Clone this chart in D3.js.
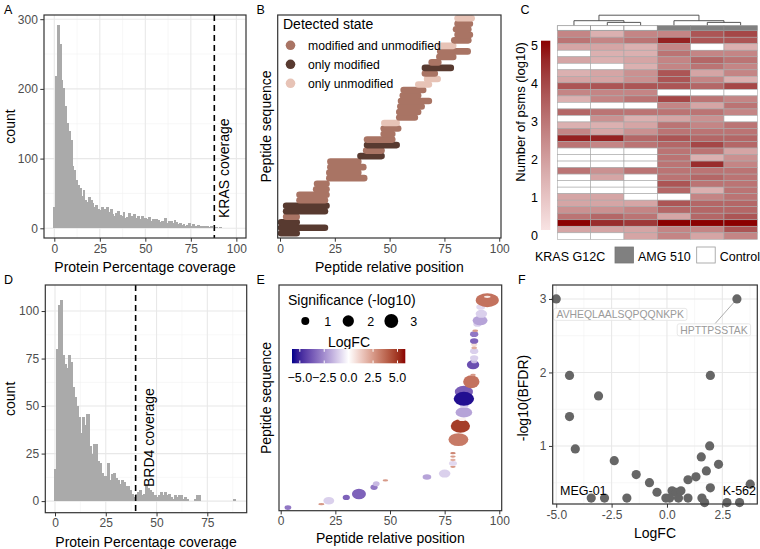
<!DOCTYPE html>
<html><head><meta charset="utf-8">
<script src="https://cdn.jsdelivr.net/npm/d3@7"></script>
<style>body{margin:0;background:#fff}svg{display:block}</style>
</head><body><svg id="c" width="760" height="549"></svg>
<script>
// ================= DATA =================
// Panel A: protein coverage histogram (bin centre %, count)
const covBinsA = d3.range(0, 101);
const covCountsA = [31,219,292,265,213,201,176,151,139,127, 89,84,69,62,58,46,55,41,38,45,
  40,36,30,33,28,26,30,22,28,30, 24,27,20,18,22,25,19,17,24,15, 16,22,18,14,20,15,18,14,17,12,
  15,13,16,11,14,10,13,12,9,11, 10,15,8,11,10,7,12,9,6,7, 5,6,4,5,7,3,6,3,4,5,
  3,3,2,3,4,2,3,1,2,2, 1,2,1,1,1,0,1,1,0,1, 1];
const krasCoverage = 87.9;
const histXTicksA = [0,25,50,75,100];
const histYTicksA = [0,100,200,300];

// Panel D
const covBinsD = d3.range(0, 89);
const covCountsD = [17,80,103,106,77,72,70,77,73,60, 55,50,44,36,44,40,46,29,25,30,
  30,21,20,15,13,13,20,11,14,15, 12,11,9,11,10,8,8,6,4,2, 4,5,6,3,4,9,7,6,5,3,
  2,3,5,3,5,3,4,2,1,3, 2,3,3,1,2,1,0,0,0,1, 3,3,0,0,0,0,0,0,0,0, 0,0,0,0,0,0,0,0,1];
const brd4Coverage = 39.7;
const histXTicksD = [0,25,50,75];
const histYTicksD = [0,25,50,75,100];

// Panel B: peptides (top row first)
const pepStart = [81.0,81.0,80.3,81.0,79.5,73.1,73.1,72.7,69.2,66.1,66.1,67.1,63.1,56.4,56.0,55.2,54.9,54.4,54.4,47.6,
  47.3,47.3,39.7,39.7,39.3,36.7,23.0,23.0,22.5,22.5,16.9,16.5,8.9,8.9,2.8,2.8,2.8,0.5,0.5,0.5];
const pepEnd   = [87.4,86.6,85.9,86.6,85.9,79.0,85.6,79.0,72.2,77.9,70.6,71.9,67.9,65.3,63.0,67.9,64.6,63.0,61.5,53.2,
  53.9,51.2,51.2,53.2,46.3,46.3,35.7,38.0,35.7,38.4,21.2,21.2,21.2,20.5,21.2,20.5,7.6,7.6,20.5,7.6];
const pepState = ["U","M","M","M","M","U","M","M","M","D","M","U","U","M","M","M","M","M","M","U",
  "M","M","M","D","M","D","M","M","M","M","M","M","M","M","D","D","M","D","D","D"];
const stateKeys = ["M","D","U"];
const stateLabels = ["modified and unmodified","only modified","only unmodified"];
const posTicks = [0,25,50,75,100];

// Panel C: heatmap (log10 psms), null = not detected
const heatSamples = ["C1","C2","C3","A1","A2","A3"];
const heatGroups  = ["Control","Control","Control","AMG 510","AMG 510","AMG 510"];
const heatValues = [
 [2.5,1.4,2.5,2.5,3.6,3.9],[2.9,2.5,2.9,4.6,3.6,3.6],[1.7,1.7,1.4,2.5,null,1.4],[null,1.4,1.4,2.9,2.5,2.5],
 [1.7,1.4,1.7,2.5,3.2,2.9],[null,null,1.4,2.5,2.9,2.5],[1.4,1.7,2.2,3.6,1.7,2.5],[1.7,1.7,2.2,3.6,2.5,1.4],
 [3.6,3.6,3.6,3.6,3.2,3.9],[2.5,2.5,2.5,null,null,null],[1.4,2.5,2.9,3.9,2.9,2.5],[null,null,null,2.5,1.7,2.9],
 [3.2,2.9,2.9,2.9,2.9,2.5],[null,2.2,1.4,1.7,2.2,null],[1.4,1.4,1.7,2.9,2.5,2.9],[2.5,1.7,2.2,2.9,2.9,2.9],
 [4.6,4.6,3.2,3.6,3.2,3.2],[2.9,2.5,2.9,3.2,3.9,3.2],[null,null,null,2.9,2.9,1.7],[null,null,null,2.9,1.4,2.2],
 [null,null,null,2.9,4.4,2.5],[2.9,2.2,2.9,2.9,2.9,2.9],[null,1.7,null,2.9,3.2,2.9],[null,null,null,3.6,2.9,2.9],
 [null,null,null,3.2,1.4,2.9],[1.7,1.7,null,null,2.5,2.9],[1.7,1.7,1.7,3.6,3.2,3.2],[2.2,2.2,2.5,3.2,3.2,3.2],
 [2.9,3.2,2.9,1.7,3.2,3.6],[5.0,4.4,4.2,5.0,5.0,5.0],[1.7,1.7,1.7,2.5,2.5,3.6],[null,null,1.7,2.5,1.7,2.5]];
const heatLegendTicks = [0,1,2,3,4,5];
// hclust-style merges: negative = leaf index (1-based), positive = earlier merge
const dendroMerges = [[-2,-3,0.28],[-1,1,0.45],[-5,-6,0.28],[-4,3,0.45],[2,4,1.0]];
const groupLegend = ["AMG 510","Control"];

// Panel E: peptide centre position, span of sites (%), rank, logFC, significance
const ePos   = [3.3,18.6,22.0,30.0,35.8,42.7,43.7,47.9,66.9,75.0,78.8,78.8,78.8,78.8,78.8,81.3,82.2,83.0,83.8,84.0,
  83.8,83.8,87.2,88.0,88.0,88.5,88.5,88.5,88.5,88.5,88.5,88.5,89.0,90.0,91.2,91.8,91.5,94.5,94.5];
const eSpan  = [0.9,1.8,1.5,0.8,1.5,0.8,0.8,1.5,1.5,1.6,1.5,1.5,1.5,1.5,1.5,3.2,2.6,2.0,3.0,2.0,
  2.5,3.0,1.6,1.5,1.5,1.2,1.2,1.2,1.2,1.2,1.2,1.2,1.5,1.2,2.5,1.6,1.5,4.2,2.0];
const eRank  = [1,2,3,4,5,7,8,9,10,11,13,14,15,16,17,21,25,27,29,31,
  35,33,38,40,43,44,45,47,48,49,50,52,53,55,56,58,60,62,63];
const eLogFC = [-3.0,2.5,-1.0,-3.5,-3.5,-3.0,-1.5,2.5,-2.0,-1.0,2.5,-0.8,2.0,2.5,3.0,3.3,4.8,0.3,-2.0,-1.0,
  -3.6,-5.5,3.5,2.5,-4.0,-1.5,-1.0,-1.0,2.0,0.8,-3.5,-3.0,2.5,-1.0,-2.0,-1.0,-0.8,3.5,0.5];
const eSig   = [0.35,0.08,0.9,0.45,1.8,0.45,0.4,0.08,0.45,1.0,0.08,0.35,0.08,0.08,0.08,2.6,2.9,0.2,1.6,0.3,
  2.5,3.0,2.6,0.08,1.3,0.2,0.5,0.5,0.15,0.2,0.5,0.5,0.1,0.5,1.4,1.0,0.5,3.0,0.08];
const sigLegend = [1,2,3];
const fcLegendTicks = [-5,-2.5,0,2.5,5];

// Panel F: volcano
const fLogFC = [-5.00,3.16,-4.40,1.96,-3.09,-4.40,-4.14,1.93,1.55,-2.38,2.33,1.78,-1.39,1.31,0.95,-0.79,3.76,
  -0.45,0.23,0.41,0.63,1.96,-0.05,0.12,0.52,0.95,1.58,1.70,-3.42,-2.82,-1.81,2.71,3.28];
const fNegLogBFDR = [3.00,3.00,1.96,1.96,1.68,1.40,0.96,1.00,0.85,0.80,0.75,0.66,0.61,0.58,0.54,0.50,0.48,
  0.37,0.39,0.37,0.39,0.43,0.29,0.29,0.29,0.29,0.29,0.23,0.29,0.29,0.29,0.23,0.23];
const fLabelText = ["AVHEQLAALSQPQQNKPK","HPTTPSSTAK"];
const fLabelIdx  = [0,1];
const fLabelX    = [-2.11,2.12];
const fLabelY    = [2.79,2.58];
const fXTicks = [-5,-2.5,0,2.5];
const fYTicks = [1,2,3];
const fSideLabels = ["MEG-01","K-562"];

// ================= DRAWING =================
const FONT = '"Liberation Sans", Arial, Helvetica, sans-serif';
const svg = d3.select("#c").attr("font-family", FONT);
svg.append("rect").attr("width",760).attr("height",549).attr("fill","#fff");

function txt(p, s, x, y, o={}) {
  const t = p.append("text").attr("x",x).attr("y",y).text(s)
    .attr("font-size", o.fs||14).attr("fill", o.fill||"#000")
    .attr("text-anchor", o.anchor||"start");
  if (o.rot) t.attr("transform",`rotate(${o.rot},${x},${y})`);
  if (o.dy) t.attr("dy", o.dy);
  return t;
}
function styleAxis(sel, fs) {
  sel.select(".domain").remove();
  sel.selectAll(".tick line").attr("stroke","#333").attr("stroke-width",1);
  sel.selectAll(".tick text").attr("fill","#4d4d4d").attr("font-size",fs||12).attr("font-family",FONT);
}
function grid(g, box, xs, ys, xMaj, xMin, yMaj, yMin) {
  const gl = (v, vert, col, w) => {
    if (vert) g.append("line").attr("x1",xs(v)).attr("x2",xs(v)).attr("y1",box.y0).attr("y2",box.y1).attr("stroke",col).attr("stroke-width",w);
    else g.append("line").attr("y1",ys(v)).attr("y2",ys(v)).attr("x1",box.x0).attr("x2",box.x1).attr("stroke",col).attr("stroke-width",w);
  };
  xMin.forEach(v=>gl(v,true,"#f1f1f1",0.6)); yMin.forEach(v=>gl(v,false,"#f1f1f1",0.6));
  xMaj.forEach(v=>gl(v,true,"#e8e8e8",1.1)); yMaj.forEach(v=>gl(v,false,"#e8e8e8",1.1));
}
function border(g, box) {
  g.append("rect").attr("x",box.x0).attr("y",box.y0).attr("width",box.x1-box.x0).attr("height",box.y1-box.y0)
   .attr("fill","none").attr("stroke","#333").attr("stroke-width",1.2);
}
function clipFor(id, box) {
  svg.append("clipPath").attr("id",id).append("rect").attr("x",box.x0).attr("y",box.y0).attr("width",box.x1-box.x0).attr("height",box.y1-box.y0);
}

// ---------- histogram panels ----------
function histPanel(cfg) {
  const {box, bins, counts, xDom, yDom, xT, yT, xMin, yMin, vline, vlabel, labelPos} = cfg;
  const g = svg.append("g");
  const xs = d3.scaleLinear().domain(xDom).range([box.x0, box.x1]);
  const ys = d3.scaleLinear().domain(yDom).range([box.y1, box.y0]);
  g.append("rect").attr("x",box.x0).attr("y",box.y0).attr("width",box.x1-box.x0).attr("height",box.y1-box.y0).attr("fill","#fff");
  grid(g, box, xs, ys, xT, xMin, yT, yMin);
  g.append("g").attr("shape-rendering","crispEdges")
    .selectAll("rect").data(bins.map((b,i)=>({b, c:counts[i]})).filter(d=>d.c>0)).join("rect")
    .attr("x", d=>Math.round(xs(d.b-0.5))).attr("width", d=>Math.round(xs(d.b+0.5))-Math.round(xs(d.b-0.5))+0.5)
    .attr("y", d=>ys(d.c)).attr("height", d=>ys(0)-ys(d.c))
    .attr("fill","#aaaaaa");
  g.append("line").attr("x1",xs(vline)).attr("x2",xs(vline)).attr("y1",box.y0).attr("y2",box.y1)
    .attr("stroke","#000").attr("stroke-width",1.6).attr("stroke-dasharray","6,4");
  txt(g, vlabel, xs(vline)+ labelPos.dx, labelPos.y, {rot:-90, fs:14, dy:"0.35em"});
  border(g, box);
  const ax = g.append("g").attr("transform",`translate(0,${box.y1})`)
    .call(d3.axisBottom(xs).tickValues(xT).tickSize(3.7).tickPadding(2.5).tickFormat(d3.format("d")));
  styleAxis(ax);
  const ay = g.append("g").attr("transform",`translate(${box.x0},0)`)
    .call(d3.axisLeft(ys).tickValues(yT).tickSize(3.7).tickPadding(2.5).tickFormat(d3.format("d")));
  styleAxis(ay);
  txt(g, "Protein Percentage coverage", (box.x0+box.x1)/2, box.y1+34, {anchor:"middle"});
  txt(g, "count", 15, (box.y0+box.y1)/2, {anchor:"middle", rot:-90});
}

histPanel({box:{x0:44,x1:246,y0:15,y1:238}, bins:covBinsA, counts:covCountsA, xDom:[-5.66,105.3], yDom:[-13.9,306],
  xT:histXTicksA, yT:histYTicksA, xMin:[12.5,37.5,62.5,87.5], yMin:[50,150,250],
  vline:krasCoverage, vlabel:"KRAS coverage", labelPos:{dx:10, y:218}});
histPanel({box:{x0:45.3,x1:246.7,y0:285,y1:512.7}, bins:covBinsD, counts:covCountsD, xDom:[-4.78,94.4], yDom:[-6.1,113.7],
  xT:histXTicksD, yT:histYTicksD, xMin:[12.5,37.5,62.5,87.5], yMin:[12.5,37.5,62.5,87.5],
  vline:brd4Coverage, vlabel:"BRD4 coverage", labelPos:{dx:13, y:487}});

// ---------- Panel B ----------
(function(){
  const box = {x0:277.7,x1:501,y0:15,y1:238};
  const g = svg.append("g");
  clipFor("clipB", box);
  const xs = d3.scaleLinear().domain([-1.05,100.8]).range([box.x0, box.x1]);
  const ys = d3.scalePoint().domain(d3.range(pepStart.length)).range([18.3, 233.3]);
  const col = d3.scaleOrdinal().domain(stateKeys).range(["#a97464","#583a30","#e7c3b6"]);
  const pg = g.append("g").attr("clip-path","url(#clipB)");
  pg.selectAll("line").data(d3.range(pepStart.length).reverse()).join("line")
    .attr("x1", i=>xs(pepStart[i])).attr("x2", i=>xs(pepEnd[i]))
    .attr("y1", i=>ys(i)).attr("y2", i=>ys(i))
    .attr("stroke", i=>col(pepState[i])).attr("stroke-width",6.6).attr("stroke-linecap","round");
  border(g, box);
  const ax = g.append("g").attr("transform",`translate(0,${box.y1})`)
    .call(d3.axisBottom(xs).tickValues(posTicks).tickSize(3.7).tickPadding(2.5));
  styleAxis(ax);
  txt(g, "Peptide relative position", (box.x0+box.x1)/2, 272, {anchor:"middle"});
  txt(g, "Peptide sequence", 271, (box.y0+box.y1)/2, {anchor:"middle", rot:-90});
  // legend
  txt(g, "Detected state", 283, 29, {fs:14});
  const ly = d3.scalePoint().domain(stateKeys).range([45.3, 83.3]);
  stateKeys.forEach((k,i)=>{
    g.append("circle").attr("cx",290.5).attr("cy",ly(k)).attr("r",4.8).attr("fill",col(k));
    txt(g, stateLabels[i], 308, ly(k), {fs:12.2, dy:"0.36em"});
  });
})();

// ---------- Panel C ----------
(function(){
  const g = svg.append("g");
  const xs = d3.scaleBand().domain(heatSamples).range([557.3, 757.3]);
  const ys = d3.scaleBand().domain(d3.range(heatValues.length)).range([30.7, 239.3]);
  const col = d3.scaleLinear().domain([0,5]).range(["#f8e3e3","#8b0000"]).interpolate(d3.interpolateRgb.gamma(1.3));
  const cells = [];
  heatValues.forEach((row,r)=>row.forEach((v,c)=>cells.push({r,c,v})));
  g.selectAll("rect.cell").data(cells).join("rect").attr("class","cell")
    .attr("x", d=>xs(heatSamples[d.c])).attr("y", d=>ys(d.r))
    .attr("width", xs.bandwidth()).attr("height", ys.bandwidth())
    .attr("fill", d=>d.v==null?"#fff":col(d.v)).attr("stroke","#a8a8a8").attr("stroke-width",0.6);
  // column annotation
  const gcol = d3.scaleOrdinal().domain(groupLegend).range(["#808080","#ffffff"]);
  g.selectAll("rect.ann").data(heatSamples).join("rect").attr("class","ann")
    .attr("x", s=>xs(s)).attr("y",25.7).attr("width",xs.bandwidth()).attr("height",4.6)
    .attr("fill", (s,i)=>gcol(heatGroups[i])).attr("stroke","#8a8a8a").attr("stroke-width",0.7);
  // dendrogram
  const dy = d3.scaleLinear().domain([0,1]).range([25.2, 15.2]);
  const nodeX = [], nodeH = [];
  const pos = id => id<0 ? xs(heatSamples[-id-1])+xs.bandwidth()/2 : nodeX[id-1];
  const hh = id => id<0 ? 0 : nodeH[id-1];
  dendroMerges.forEach(([a,b,h])=>{
    const xa=pos(a), xb=pos(b);
    g.append("path").attr("d",`M${xa},${dy(hh(a))}V${dy(h)}H${xb}V${dy(hh(b))}`)
      .attr("fill","none").attr("stroke","#444").attr("stroke-width",0.9);
    nodeX.push((xa+xb)/2); nodeH.push(h);
  });
  // colour bar
  const defs = svg.append("defs");
  const lg = defs.append("linearGradient").attr("id","gC").attr("x1",0).attr("x2",0).attr("y1",1).attr("y2",0);
  d3.range(0,1.01,0.1).forEach(t=>lg.append("stop").attr("offset",t).attr("stop-color",col(t*5)));
  g.append("rect").attr("x",541).attr("y",40.7).attr("width",9.3).attr("height",189.3).attr("fill","url(#gC)");
  const ly = d3.scaleLinear().domain([0,5]).range([235.7, 45.7]);
  heatLegendTicks.forEach(v=>txt(g, String(v), 538, ly(v), {fs:12.5, anchor:"end", dy:"0.36em"}));
  txt(g, "Number of psms (log10)", 524.5, 112, {fs:13, anchor:"middle", rot:-90});
  // group legend
  txt(g, "KRAS G12C", 535, 261, {fs:12.5});
  const gx = d3.scalePoint().domain(groupLegend).range([615, 696.7]);
  groupLegend.forEach(k=>{
    g.append("rect").attr("x",gx(k)).attr("y",247).attr("width",18.5).attr("height",16)
      .attr("fill",gcol(k)).attr("stroke",k==="Control"?"#999":"#777").attr("stroke-width",0.8);
    txt(g, k, gx(k)+23, 261, {fs:12.5});
  });
})();

// ---------- Panel E ----------
(function(){
  const box = {x0:279,x1:501.7,y0:285,y1:510.7};
  const g = svg.append("g");
  clipFor("clipE", box);
  const xs = d3.scaleLinear().domain([-0.78,101.1]).range([box.x0, box.x1]);
  const ys = d3.scaleLinear().domain([0,64]).range([511, 293.4]);
  const col = d3.scaleLinear().domain([-5.8,0,5.8]).range(["#00008b","#ffffff","#8b0000"]).interpolate(d3.interpolateLab);
  const rs = v => 4*Math.sqrt(v);
  const pg = g.append("g").attr("clip-path","url(#clipE)");
  // overlapping site markers of one peptide merge into an oval
  pg.selectAll("ellipse").data(d3.range(ePos.length)).join("ellipse")
    .attr("cx", i=>xs(ePos[i])).attr("cy", i=>ys(eRank[i]))
    .attr("rx", i=>rs(eSig[i]) + (xs(eSpan[i])-xs(0))/2).attr("ry", i=>rs(eSig[i]))
    .attr("fill", i=>col(eLogFC[i]));
  border(g, box);
  const ax = g.append("g").attr("transform",`translate(0,${box.y1})`)
    .call(d3.axisBottom(xs).tickValues(posTicks).tickSize(3.7).tickPadding(2.5));
  styleAxis(ax);
  txt(g, "Peptide relative position", (box.x0+box.x1)/2, 543, {anchor:"middle"});
  txt(g, "Peptide sequence", 271, 398, {anchor:"middle", rot:-90});
  // legends
  txt(g, "Significance (-log10)", 288, 305, {fs:14});
  const sx = d3.scalePoint().domain(sigLegend).range([305.3, 391.3]);
  sigLegend.forEach(v=>{
    g.append("circle").attr("cx",sx(v)).attr("cy",321).attr("r",rs(v)).attr("fill","#000");
    txt(g, String(v), sx(v)+19, 321, {fs:12.5, dy:"0.36em"});
  });
  txt(g, "LogFC", 328, 347, {fs:14});
  const lx = d3.scaleLinear().domain([-5.8,5.8]).range([292, 405.3]);
  const defs = svg.append("defs");
  const lg = defs.append("linearGradient").attr("id","gE");
  d3.range(0,1.001,0.05).forEach(t=>lg.append("stop").attr("offset",t).attr("stop-color",col(-5.8+11.6*t)));
  g.append("rect").attr("x",lx(-5.8)).attr("y",349).attr("width",lx(5.8)-lx(-5.8)).attr("height",14.3).attr("fill","url(#gE)");
  fcLegendTicks.forEach(v=>{
    g.append("line").attr("x1",lx(v)).attr("x2",lx(v)).attr("y1",349).attr("y2",351.8).attr("stroke","#fff").attr("stroke-width",1);
    g.append("line").attr("x1",lx(v)).attr("x2",lx(v)).attr("y1",360.5).attr("y2",363.3).attr("stroke","#fff").attr("stroke-width",1);
    txt(g, d3.format(".1f")(v).replace("-","\u2212"), lx(v), 381.5, {fs:12.5, anchor:"middle"});
  });
})();

// ---------- Panel F ----------
(function(){
  const box = {x0:552.7,x1:757.3,y0:285,y1:504};
  const g = svg.append("g");
  const xs = d3.scaleLinear().domain([-5.16,4.08]).range([box.x0, box.x1]);
  const ys = d3.scaleLinear().domain([0.21,3.19]).range([box.y1, box.y0]);
  g.append("rect").attr("x",box.x0).attr("y",box.y0).attr("width",box.x1-box.x0).attr("height",box.y1-box.y0).attr("fill","#fff");
  grid(g, box, xs, ys, fXTicks, [-3.75,-1.25,1.25,3.75], fYTicks, [0.5,1.5,2.5]);
  g.append("line").attr("x1",xs(fLogFC[fLabelIdx[1]])).attr("y1",ys(fNegLogBFDR[fLabelIdx[1]]))
    .attr("x2",xs(fLabelX[1])+1).attr("y2",ys(fLabelY[1])-6).attr("stroke","#999").attr("stroke-width",0.8);
  g.selectAll("circle").data(d3.range(fLogFC.length)).join("circle")
    .attr("cx", i=>xs(fLogFC[i])).attr("cy", i=>ys(fNegLogBFDR[i])).attr("r",4.6).attr("fill","#666");
  fLabelText.forEach((s,k)=>{
    const t = txt(g, s, xs(fLabelX[k]), ys(fLabelY[k]), {fs:10.4, anchor:"middle", fill:"#9a9a9a", dy:"0.36em"});
    const w = t.node().getComputedTextLength();
    g.insert("rect", "text").attr("x", xs(fLabelX[k])-w/2-3).attr("y", ys(fLabelY[k])-6).attr("width", w+6).attr("height",12)
      .attr("rx",2).attr("fill","#fff").attr("fill-opacity",0.75).attr("stroke","#e2e2e2").attr("stroke-width",0.8);
  });
  txt(g, fSideLabels[0], 560, 494.5, {fs:12.5});
  txt(g, fSideLabels[1], 756, 494.5, {fs:12.5, anchor:"end"});
  border(g, box);
  const ax = g.append("g").attr("transform",`translate(0,${box.y1})`)
    .call(d3.axisBottom(xs).tickValues(fXTicks).tickSize(3.7).tickPadding(2.5).tickFormat(d3.format(".1f")));
  styleAxis(ax);
  ax.selectAll(".tick text").text(d=>d3.format(".1f")(d).replace("\u2212","-"));
  const ay = g.append("g").attr("transform",`translate(${box.x0},0)`)
    .call(d3.axisLeft(ys).tickValues(fYTicks).tickSize(3.7).tickPadding(2.5).tickFormat(d3.format("d")));
  styleAxis(ay);
  txt(g, "LogFC", (box.x0+box.x1)/2, 538, {anchor:"middle"});
  txt(g, "-log10(BFDR)", 528, 398, {anchor:"middle", rot:-90});
})();

// panel letters
[["A",4,13.5],["B",256.5,13.5],["C",520.5,13.5],["D",4,284],["E",256.5,284],["F",518,284]]
  .forEach(([s,x,y])=>txt(svg, s, x, y, {fs:12.5}));
</script></body></html>
